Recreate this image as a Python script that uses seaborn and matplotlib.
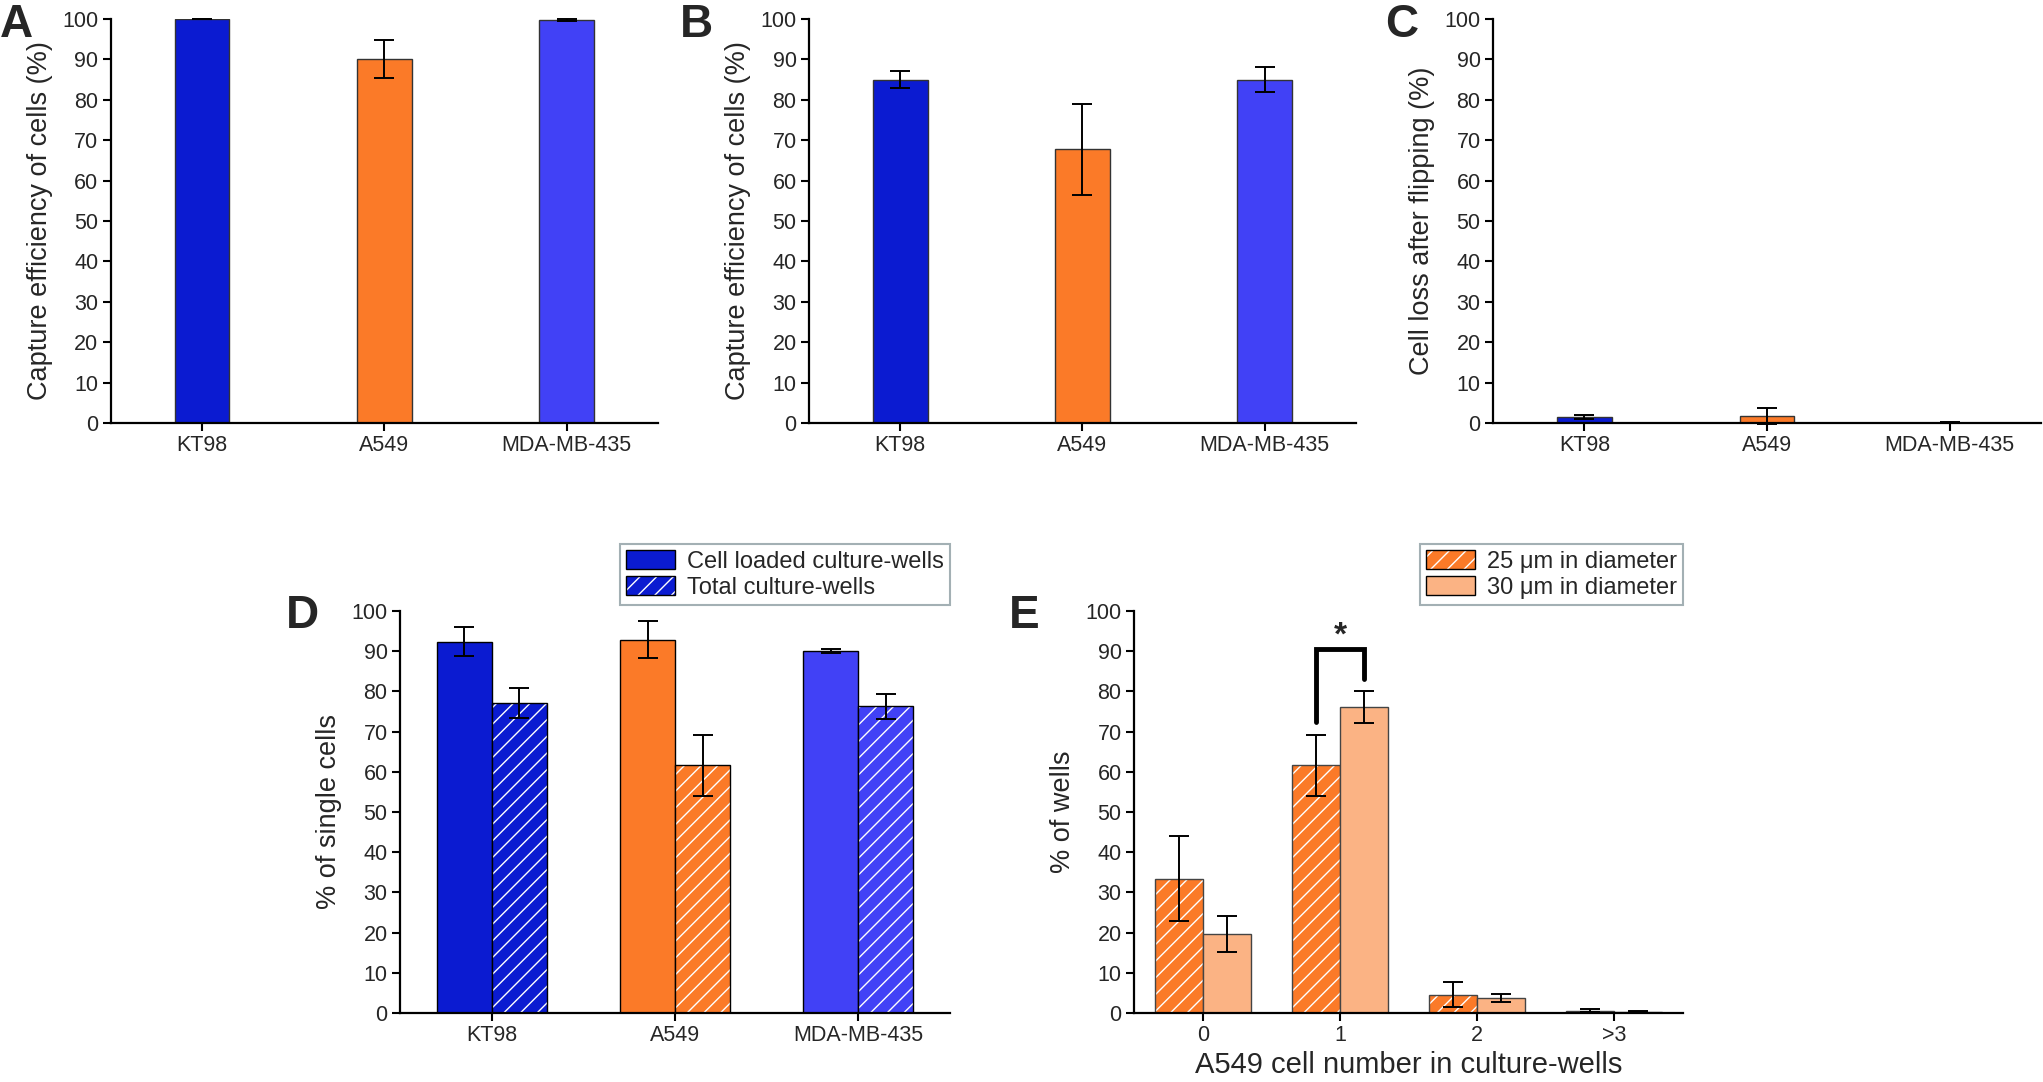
import matplotlib
import matplotlib.colors as mcolors
import matplotlib.pyplot as plt
import pandas as pd
import seaborn as sns
from matplotlib.container import BarContainer
from matplotlib.patches import Patch

matplotlib.use("Agg")
sns.set_theme(style="ticks")
plt.rcParams["font.family"] = ["Liberation Sans", "DejaVu Sans"]

OUTPUT_PATH = "out.png"

CELL_LINES = ["KT98", "A549", "MDA-MB-435"]
LINE_COLORS = ["#0b1bd1", "#fb7a28", "#4141f6"]

# panel A
CAPTURE_A = [100.0, 90.2, 99.8]
CAPTURE_A_ERR = [0.1, 4.7, 0.2]
# panel B
CAPTURE_B = [85.0, 67.7, 85.0]
CAPTURE_B_ERR = [2.0, 11.3, 3.2]
# panel C
CELL_LOSS = [1.5, 1.8, 0.1]
CELL_LOSS_ERR = [0.4, 2.0, 0.05]
# panel D
SINGLE_LABELS = ["Cell loaded culture-wells", "Total culture-wells"]
SINGLE_LOADED = [92.4, 92.9, 90.0]
SINGLE_LOADED_ERR = [3.7, 4.5, 0.5]
SINGLE_TOTAL = [77.2, 61.6, 76.3]
SINGLE_TOTAL_ERR = [3.7, 7.5, 3.1]
# panel E
WELL_COUNTS = ["0", "1", "2", ">3"]
WELL_LABELS = ["25 \u03bcm in diameter", "30 \u03bcm in diameter"]
WELL_COLORS = ["#fb7a28", "#fbb384"]
WELLS_25 = [33.4, 61.6, 4.5, 0.6]
WELLS_25_ERR = [10.6, 7.5, 3.1, 0.3]
WELLS_30 = [19.7, 76.1, 3.8, 0.3]
WELLS_30_ERR = [4.5, 4.0, 1.0, 0.1]
BRACKET_LEGS = [72.4, 83.0]
BRACKET_TOP = 90.5
STAR_Y = 90.0

TICK_SIZE = 15.5
LABEL_SIZE = 19.5
LEGEND_SIZE = 17
LETTER_SIZE = 33


def style_axes(ax, ylabel, n_cats):
    sns.despine(ax=ax)
    ax.set_ylim(0, 100)
    ax.set_xlim(-0.5, n_cats - 0.5)
    ax.set_yticks(range(0, 101, 10))
    ax.set_ylabel(ylabel, fontsize=LABEL_SIZE, labelpad=7)
    ax.set_xlabel("")
    ax.tick_params(axis="both", labelsize=TICK_SIZE, direction="out",
                   length=6, width=1.5, pad=3, color="black")
    for side in ("left", "bottom"):
        ax.spines[side].set_linewidth(1.6)
        ax.spines[side].set_color("black")


def bar_groups(ax):
    # one list of bars per hue level, each sorted left to right
    containers = [c for c in ax.containers if isinstance(c, BarContainer)]
    return [sorted(c, key=lambda b: b.get_x()) for c in containers]


def add_errorbars(ax, bars, errors):
    xs = [b.get_x() + b.get_width() / 2 for b in bars]
    ys = [b.get_height() for b in bars]
    ax.errorbar(xs, ys, yerr=errors, fmt="none", ecolor="black",
                elinewidth=1.4, capsize=7, capthick=1.4, zorder=4, clip_on=False)


def hatch_white(bar):
    bar.set_hatch("//")
    bar._hatch_color = mcolors.to_rgba("white")


def single_panel(ax, values, errors, ylabel):
    df = pd.DataFrame({"cell_line": CELL_LINES, "value": values})
    sns.barplot(data=df, x="cell_line", y="value", hue="cell_line", order=CELL_LINES,
                palette=LINE_COLORS, width=0.3, errorbar=None, legend=False,
                saturation=1, edgecolor="#333333", linewidth=1.0, ax=ax)
    bars = sorted([b for g in bar_groups(ax) for b in g], key=lambda b: b.get_x())
    add_errorbars(ax, bars, errors)
    style_axes(ax, ylabel, len(CELL_LINES))


def add_legend(ax, handles, labels):
    leg = ax.legend(handles, labels, loc="lower right", bbox_to_anchor=(1.0, 1.015),
                    frameon=True, fancybox=False, fontsize=LEGEND_SIZE,
                    handlelength=2.1, handleheight=0.85, labelspacing=0.15,
                    borderpad=0.25, handletextpad=0.5, borderaxespad=0)
    leg.get_frame().set_edgecolor("#8c9ca2")
    leg.get_frame().set_linewidth(1.5)


def single_cells_panel(ax):
    df = pd.DataFrame({
        "cell_line": CELL_LINES * 2,
        "measure": [SINGLE_LABELS[0]] * 3 + [SINGLE_LABELS[1]] * 3,
        "value": SINGLE_LOADED + SINGLE_TOTAL,
    })
    sns.barplot(data=df, x="cell_line", y="value", hue="measure", order=CELL_LINES,
                hue_order=SINGLE_LABELS, palette=["gray", "gray"], width=0.6,
                errorbar=None, legend=False, saturation=1,
                edgecolor="black", linewidth=1.0, ax=ax)
    errs = [SINGLE_LOADED_ERR, SINGLE_TOTAL_ERR]
    for k, bars in enumerate(bar_groups(ax)):
        for i, bar in enumerate(bars):
            bar.set_facecolor(LINE_COLORS[i])
            if k == 1:
                hatch_white(bar)
        add_errorbars(ax, bars, errs[k])
    style_axes(ax, "% of single cells", len(CELL_LINES))

    handles = [Patch(facecolor=LINE_COLORS[0], edgecolor="black", linewidth=1.0),
               Patch(facecolor=LINE_COLORS[0], edgecolor="black", linewidth=1.0, hatch="//")]
    handles[1]._hatch_color = mcolors.to_rgba("white")
    add_legend(ax, handles, SINGLE_LABELS)


def wells_panel(ax):
    df = pd.DataFrame({
        "count": WELL_COUNTS * 2,
        "size": [WELL_LABELS[0]] * 4 + [WELL_LABELS[1]] * 4,
        "value": WELLS_25 + WELLS_30,
    })
    sns.barplot(data=df, x="count", y="value", hue="size", order=WELL_COUNTS,
                hue_order=WELL_LABELS, palette=WELL_COLORS, width=0.7,
                errorbar=None, legend=False, saturation=1,
                edgecolor="#444444", linewidth=1.0, ax=ax)
    errs = [WELLS_25_ERR, WELLS_30_ERR]
    groups = bar_groups(ax)
    for k, bars in enumerate(groups):
        if k == 0:
            for bar in bars:
                hatch_white(bar)
        add_errorbars(ax, bars, errs[k])
    style_axes(ax, "% of wells", len(WELL_COUNTS))
    ax.set_xlabel("A549 cell number in culture-wells", fontsize=21, labelpad=3)

    # significance bracket over the "1" group
    left = groups[0][1].get_x() + groups[0][1].get_width() / 2
    right = groups[1][1].get_x() + groups[1][1].get_width() / 2
    ax.plot([left, left, right, right],
            [BRACKET_LEGS[0], BRACKET_TOP, BRACKET_TOP, BRACKET_LEGS[1]],
            color="black", lw=3.5, solid_joinstyle="miter", zorder=5)
    ax.text((left + right) / 2, STAR_Y, "*", ha="center", va="bottom",
            fontsize=24, fontweight="bold")

    handles = [Patch(facecolor=WELL_COLORS[0], edgecolor="black", linewidth=1.0, hatch="//"),
               Patch(facecolor=WELL_COLORS[1], edgecolor="black", linewidth=1.0)]
    handles[0]._hatch_color = mcolors.to_rgba("white")
    add_legend(ax, handles, WELL_LABELS)


def main():
    fig = plt.figure(figsize=(20.43, 10.82), dpi=100)
    ax_a = fig.add_axes([0.0543, 0.6091, 0.2677, 0.3734])
    ax_b = fig.add_axes([0.3960, 0.6091, 0.2677, 0.3734])
    ax_c = fig.add_axes([0.7308, 0.6091, 0.2682, 0.3734])
    ax_d = fig.add_axes([0.1958, 0.0638, 0.2692, 0.3715])
    ax_e = fig.add_axes([0.5551, 0.0638, 0.2687, 0.3715])

    single_panel(ax_a, CAPTURE_A, CAPTURE_A_ERR, "Capture efficiency of cells (%)")
    single_panel(ax_b, CAPTURE_B, CAPTURE_B_ERR, "Capture efficiency of cells (%)")
    single_panel(ax_c, CELL_LOSS, CELL_LOSS_ERR, "Cell loss after flipping (%)")
    single_cells_panel(ax_d)
    wells_panel(ax_e)

    letters = [("A", 0.0, 0.966), ("B", 0.333, 0.966), ("C", 0.678, 0.966),
               ("D", 0.140, 0.420), ("E", 0.494, 0.420)]
    for letter, x, y in letters:
        fig.text(x, y, letter, fontsize=LETTER_SIZE, fontweight="bold",
                 ha="left", va="baseline")

    fig.savefig(OUTPUT_PATH, dpi=100)
    plt.close(fig)


if __name__ == "__main__":
    main()
